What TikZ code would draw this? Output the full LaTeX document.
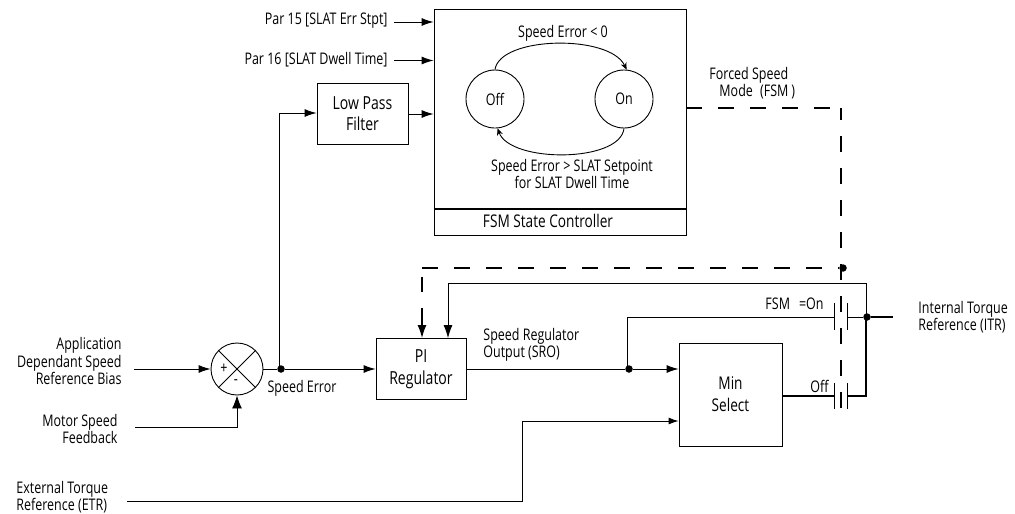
\documentclass[tikz,border=0pt]{standalone}
\usepackage{fontspec}
\setmainfont[FakeStretch=0.78]{Open Sans}
\usetikzlibrary{arrows.meta}
\tikzset{
  blockbox/.style={shape=rectangle, draw, inner sep=0pt, align=center},
  statering/.style={shape=circle, draw, inner sep=0pt, minimum size=58pt},
  dotjoin/.style={shape=circle, fill, inner sep=0pt, minimum size=7.5pt},
  tagtext/.style={inner sep=0pt, align=center, font=\fontsize{16}{17}\selectfont},
  flow/.style={-{Latex[length=12pt,width=8pt]}, line width=0.9pt},
  wire/.style={line width=0.9pt},
  heavy/.style={line width=1.8pt},
  forced/.style={line width=1.3pt, dash pattern=on 16pt off 16pt},
  plate/.style={line width=1pt}
}
\begin{document}
\begin{tikzpicture}[x=1pt, y=-1pt, line width=0.9pt]
  \useasboundingbox (0, 0) rectangle (1015, 514);

  % blocks
  \node[blockbox, minimum width=252pt, minimum height=226pt] (fsmbox) at (560, 122){};
  \node[blockbox, minimum width=91pt, minimum height=61pt, font=\fontsize{18}{21}\selectfont] (lowpass) at (362.5, 113.5){Low Pass\hspace{6pt}\\Filter};
  \node[blockbox, minimum width=90pt, minimum height=61pt, font=\fontsize{18}{22}\selectfont] (piblock) at (421, 369){PI\\Regulator\hspace{6pt}};
  \node[blockbox, minimum width=103pt, minimum height=103pt, font=\fontsize{17.5}{22}\selectfont] (minselect) at (730.5, 394.5){Min\\Select};
  \node[statering, font=\fontsize{16}{16}\selectfont] (stateoff) at (495, 99){Off};
  \node[statering, font=\fontsize{16}{16}\selectfont] (stateon) at (624, 99){On};
  \node[shape=circle, draw, inner sep=0pt, minimum size=52pt] (sum) at (237, 369){};

  % state controller footer
  \coordinate (footl) at (434, 209);
  \coordinate (footr) at (686, 209);
  \draw[line width=1.4pt] (footl) -- (footr);
  \node[tagtext, font=\fontsize{17.5}{18}\selectfont] (fsmlabel) at (548, 221){FSM State Controller};

  % sum cross
  \draw[wire] (sum.45) -- (sum.225);
  \draw[wire] (sum.135) -- (sum.315);
  \node[tagtext, font=\fontsize{16}{16}\selectfont] (plus) at (224, 369){+};
  \node[tagtext] (minus) at (236, 382){-};

  % junctions
  \node[dotjoin] (jerr) at (281, 369){};
  \node[dotjoin] (jsro) at (629, 369){};
  \node[dotjoin] (jforce) at (843, 268){};
  \node[dotjoin] (jitr) at (867, 317){};

  % labels
  \node[tagtext, anchor=east] (par15) at (388, 21){Par 15 [SLAT Err Stpt]};
  \node[tagtext, anchor=east] (par16) at (388, 60){Par 16 [SLAT Dwell Time]};
  \node[tagtext] (toperr) at (563, 33){Speed Error < 0};
  \node[tagtext, font=\fontsize{16}{14.5}\selectfont] (botperr) at (572, 174){Speed Error > SLAT Setpoint\\for SLAT Dwell Time};
  \node[tagtext, anchor=west, align=left] (fsmmode) at (709, 83){Forced Speed\\\hspace{10pt}Mode\hspace{4pt} (FSM\hspace{3pt})};
  \node[tagtext, anchor=east, align=right, font=\fontsize{16}{17.5}\selectfont] (appbias) at (122, 361){Application\\Dependant Speed\hspace{9pt}\\Reference Bias\hspace{10pt}};
  \node[tagtext, anchor=east, align=right] (motorfb) at (118, 428.5){Motor Speed\\Feedback};
  \node[tagtext, anchor=west, align=left] (extref) at (16, 497){External Torque\\Reference (ETR)};
  \node[tagtext] (errtag) at (302, 388){Speed Error};
  \node[tagtext, anchor=west, align=left] (srotag) at (483, 344.5){Speed Regulator\\Output (SRO)};
  \node[tagtext, anchor=east] (fsmon) at (824, 304){FSM\hspace{9pt}=On};
  \node[tagtext, anchor=east] (offtag) at (829, 386){Off};
  \node[tagtext, anchor=west, align=left] (itrtag) at (918, 317.5){Internal Torque\\Reference (ITR)};

  % free ends
  \coordinate (in15) at (394, 22);
  \coordinate (in16) at (394, 60.5);
  \coordinate (inapp) at (134, 369);
  \coordinate (inmotor) at (135, 427);
  \coordinate (inext) at (127, 501);
  \coordinate (outitr) at (893, 317);
  \coordinate (fsmout) at (686, 108);
  \coordinate (lpin) at (279, 113);
  \coordinate (pidash) at (422, 268);
  \coordinate (pitop) at (448, 283);
  \coordinate (ctop) at (841, 108);
  \coordinate (cbot) at (841, 408);

  % contacts
  \coordinate (onleft) at (834, 317);
  \coordinate (onright) at (847, 317);
  \coordinate (offleft) at (834, 396);
  \coordinate (offright) at (847, 396);
  \draw[plate] ([yshift=14pt]onleft) -- ([yshift=-13pt]onleft);
  \draw[plate] ([yshift=14pt]onright) -- ([yshift=-13pt]onright);
  \draw[plate] ([yshift=13pt]offleft) -- ([yshift=-13pt]offleft);
  \draw[plate] ([yshift=13pt]offright) -- ([yshift=-13pt]offright);

  % connectors
  \draw[flow] (in15) -- (fsmbox.west |- in15);
  \draw[flow] (in16) -- (fsmbox.west |- in16);
  \draw[flow] (lowpass.east |- 0, 114) -- (fsmbox.west |- 0, 114);
  \draw[flow] (inapp) -- (sum);
  \draw[flow, -{Latex[length=13pt,width=10pt]}] (inmotor) -| (sum);
  \draw[wire] (sum) -- (jerr);
  \draw[flow] (jerr) -- (piblock);
  \draw[wire] (jerr.center -| lpin) -- (lpin);
  \draw[flow] (lpin) -- (lowpass.west |- lpin);
  \draw[flow] (piblock) -- (jsro) -- (minselect.west |- jsro);
  \draw[wire] (627, 369) |- (onleft);
  \draw[wire] (onright) -- (jitr);
  \draw[heavy] (jitr) -- (outitr);
  \draw[heavy] (minselect.east |- offleft) -- (offleft);
  \draw[heavy] (offright) -| (866, 317);
  \draw[wire] (866, 317) |- (pitop);
  \draw[flow, -{Latex[length=13pt,width=9pt]}] (pitop) -- (piblock.north -| pitop);
  \draw[wire] (inext) -| (522, 421);
  \draw[flow, -{Latex[length=10pt,width=7pt]}] (522, 421) -- (minselect.west |- 0, 421);
  \draw[forced] (fsmout) -- (ctop);
  \draw[forced, dash phase=4pt] (ctop) -- (cbot);
  \draw[forced] (pidash) -- (jforce);
  \draw[forced, dash phase=23pt] (pidash) -- (422, 292);
  \draw[-{Latex[length=13pt,width=9pt]}, line width=1.4pt] (422, 308) -- (piblock.north -| pidash);
  \draw[wire, -{Stealth[length=7pt,width=6pt]}] (stateoff.north) .. controls (500, 36) and (610, 34) .. (stateon.85);
  \draw[wire, -{Stealth[length=7pt,width=6pt]}] (stateon.south) .. controls (620, 163) and (510, 163) .. (stateoff.-85);
\end{tikzpicture}
\end{document}
